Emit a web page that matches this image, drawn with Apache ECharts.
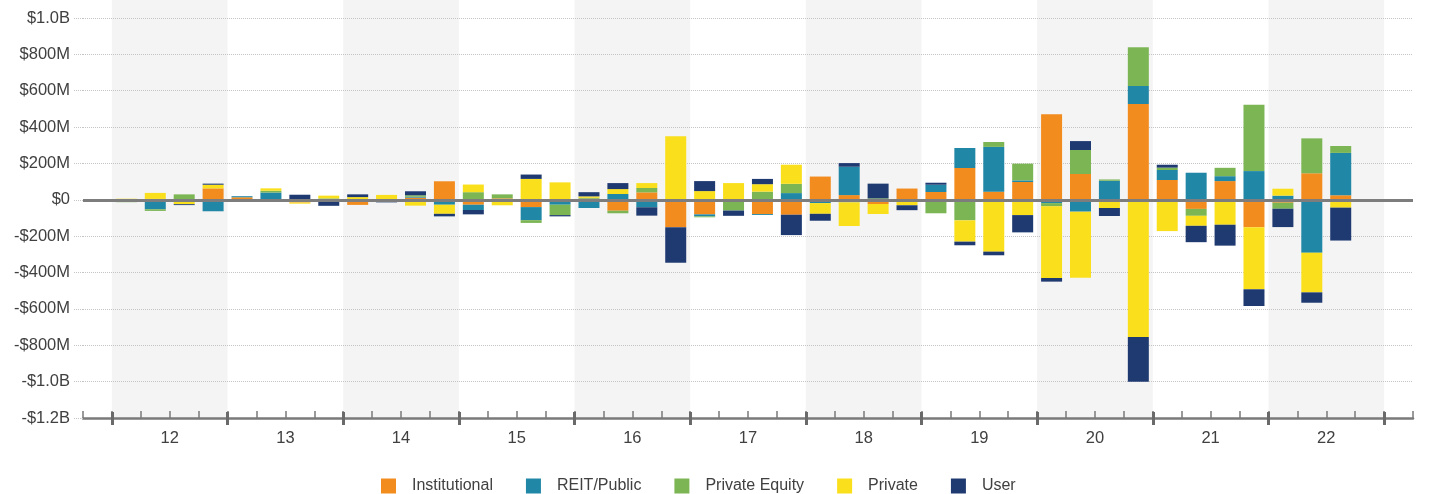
<!DOCTYPE html>
<html><head><meta charset="utf-8">
<script src="https://cdn.jsdelivr.net/npm/echarts@6/dist/echarts.min.js"></script>
<style>html,body{margin:0;padding:0;background:#fff}#c{width:1430px;height:494px}</style>
</head><body><div id="c"></div>
<script>
// ---- data (values in $M) ----
const years = ['12','13','14','15','16','17','18','19','20','21','22'];
const shadedYears = ['12','14','16','18','20','22'];
const seriesNames = ['Institutional','REIT/Public','Private Equity','Private','User'];
const institutional = [-5,5,0,63,14,0,-15,4,-28,-4,12,102,-27,8,-40,0,6,-60,41,-151,-80,-8,-78,-82,128,26,-23,62,43,175,45,98,470,142,0,527,109,-50,103,-151,-16,146,25,null];
const reitPublic = [0,-52,0,-63,6,40,0,-9,0,0,5,-27,-29,0,-72,-27,-45,32,-41,5,-11,0,-5,37,-18,156,0,0,40,110,246,9,-18,-65,105,99,55,149,27,158,23,-291,233,null];
const privateEquity = [-8,-9,30,0,0,10,0,4,3,0,8,0,42,22,-15,-57,5,-14,24,0,-5,-51,45,51,0,-14,8,0,-74,-113,27,92,-18,132,7,213,13,-38,46,365,-33,192,38,null];
const privateBuyers = [6,33,-24,20,0,13,-6,15,12,27,-32,-50,42,-30,115,96,8,27,27,344,48,92,41,105,-59,-130,-55,-30,0,-117,-285,-84,-394,-363,-45,-754,-172,-55,-137,-341,38,-218,-43,null];
const user = [0,0,-5,6,-10,-8,28,-24,15,-10,22,-14,-24,0,24,-7,23,33,-46,-195,55,-29,29,-112,-38,20,81,-27,11,-20,-20,-95,-20,49,-44,-246,16,-90,-115,-92,-101,-57,-181,null];
const yTicks = [-1200,-1000,-800,-600,-400,-200,0,200,400,600,800,1000];
const yTickLabels = ['-$1.2B','-$1.0B','-$800M','-$600M','-$400M','-$200M','$0','$200M','$400M','$600M','$800M','$1.0B'];
const colors = ['#F28C1F','#2187A6','#7CB554','#FADF1C','#1F3A70'];

// ---- derived structures ----
const quarters = [];
years.forEach(y => { for (let q = 1; q <= 4; q++) quarters.push(y + 'Q' + q); });
const nSlots = quarters.length + 2;               // one empty slot on each side
const dataCats = ['start', ...quarters, 'end'];
const boundaryCats = Array.from({length: nSlots + 1}, (_, k) =>
  (k >= 3 && (k - 3) % 4 === 0 && (k - 3) / 4 < years.length) ? years[(k - 3) / 4] : '');
const pad = arr => [null, ...arr, null];
const allValues = [institutional, reitPublic, privateEquity, privateBuyers, user];

const font = '"Liberation Sans", Arial, sans-serif';
const txt = '#404040';
const G = {left: 83, right: 17, top: 18, bottom: 76};

const bandAreas = shadedYears.map(y => {
  const yi = years.indexOf(y);
  return [{xAxis: 1 + 4 * yi}, {xAxis: 5 + 4 * yi}];
});

const option = {
  animation: false,
  backgroundColor: '#fff',
  textStyle: {fontFamily: font},
  grid: [
    Object.assign({}, G),
    {left: G.left, right: G.right, top: 0, bottom: G.bottom}
  ],
  legend: {
    data: seriesNames,
    left: 381, top: 478, padding: 0,
    icon: 'rect', itemWidth: 15, itemHeight: 15, itemGap: 33,
    textStyle: {fontSize: 16, color: txt, fontFamily: font, padding: [0, 0, 0, 11]}
  },
  xAxis: [
    { // data axis
      type: 'category', gridIndex: 0, position: 'bottom', data: dataCats,
      axisLine: {show: true, onZero: false, lineStyle: {color: '#7a7a7a', width: 2.5}},
      axisTick: {show: false}, axisLabel: {show: false}, splitLine: {show: false}
    },
    { // minor ticks + year labels
      type: 'category', gridIndex: 0, position: 'bottom', data: boundaryCats, boundaryGap: false,
      axisLine: {show: false, onZero: false},
      axisTick: {show: true, inside: true, length: 7, interval: 0, lineStyle: {color: '#7a7a7a', width: 1.5}},
      axisLabel: {show: true, interval: 0, margin: 12, fontSize: 16.5, color: txt, fontFamily: font},
      splitLine: {show: false}
    },
    { // major ticks (cross the axis line)
      type: 'category', gridIndex: 0, position: 'bottom', data: boundaryCats, boundaryGap: false, offset: -6,
      axisLine: {show: false, onZero: false},
      axisTick: {show: true, inside: false, length: 13, interval: i => i % 4 === 1, lineStyle: {color: '#6a6a6a', width: 3}},
      axisLabel: {show: false}, splitLine: {show: false}
    },
    { // band axis
      type: 'value', gridIndex: 1, min: 0, max: nSlots, show: false
    }
  ],
  yAxis: [
    {
      type: 'value', gridIndex: 0, min: -1200, max: 1000, interval: 200,
      axisLine: {show: false},
      axisTick: {show: true, length: 10, lineStyle: {color: '#c4c4c4', type: 'dotted', width: 1}},
      axisLabel: {
        margin: 13, fontSize: 16.5, color: txt, fontFamily: font,
        formatter: v => { const i = yTicks.indexOf(v); return i >= 0 ? yTickLabels[i] : ''; }
      },
      splitLine: {show: true, lineStyle: {color: '#c4c4c4', type: 'dotted', width: 1}}
    },
    {type: 'value', gridIndex: 1, min: 0, max: 1, show: false}
  ],
  series: [
    {
      name: 'bands', type: 'line', xAxisIndex: 3, yAxisIndex: 1, data: [], silent: true,
      markArea: {z: -1, silent: true, itemStyle: {color: '#f4f4f4'}, data: bandAreas}
    },
    ...seriesNames.map((name, si) => ({
      name, type: 'bar', stack: 'total', xAxisIndex: 0, yAxisIndex: 0,
      barWidth: 21, z: 2,
      itemStyle: {color: colors[si]},
      data: pad(allValues[si])
    })),
    {
      name: 'zero', type: 'line', xAxisIndex: 0, yAxisIndex: 0, data: [], silent: true,
      markLine: {
        z: 6, silent: true, symbol: ['none', 'none'], label: {show: false},
        lineStyle: {color: '#7d7d7d', width: 3, type: 'solid'},
        data: [{yAxis: 0}]
      }
    }
  ]
};

const chart = echarts.init(document.getElementById('c'), null, {renderer: 'canvas'});
chart.setOption(option);
</script>
</body></html>
